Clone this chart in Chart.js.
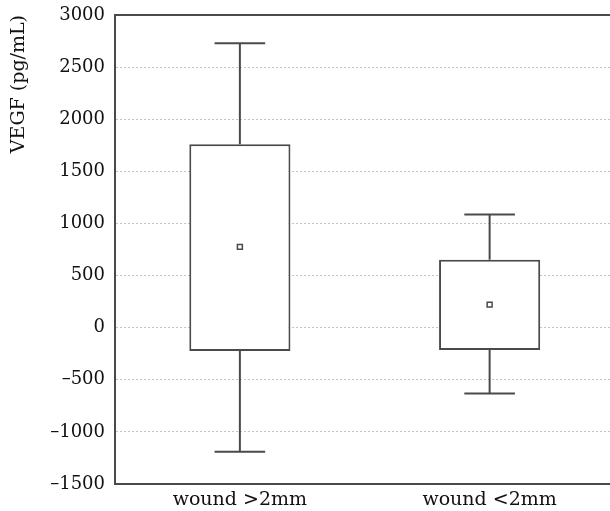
<!DOCTYPE html>
<html>
<head>
<meta charset="utf-8">
<script src="https://cdn.jsdelivr.net/npm/chart.js@4.4.1/dist/chart.umd.min.js"></script>
<style>
  html, body { margin: 0; padding: 0; background: #fff; overflow: hidden; }
  #wrap { width: 620px; height: 511px; }
</style>
</head>
<body>
<div id="wrap"><canvas id="grafico"></canvas></div>
<script>
// ===== datos =====
const categorias = ['wound >2mm', 'wound <2mm'];
const cuartilInf = [-225, -215];     // borde inferior de la caja
const cuartilSup = [1760, 652];      // borde superior de la caja
const bigoteInf  = [-1190, -632];
const bigoteSup  = [2728, 1085];
const medias     = [775, 221];

const yMin = -1500, yMax = 3000, yPaso = 500;
const tituloY = 'VEGF (pg/mL)';

const COLOR_LINEA = '#4a4a4a';
const COLOR_TEXTO = '#111111';
const FUENTE = 'DejaVu Serif';

// ===== bigotes y marco superior =====
const bigotes = {
  id: 'bigotes',
  afterDatasetsDraw(chart) {
    const { ctx, scales: { y }, chartArea } = chart;
    const meta = chart.getDatasetMeta(0);
    ctx.save();
    ctx.strokeStyle = COLOR_LINEA;
    ctx.lineWidth = 2;
    meta.data.forEach((bar, i) => {
      const cx = bar.x;
      const medio = bar.width / 4;
      const yAlto = y.getPixelForValue(bigoteSup[i]);
      const yBajo = y.getPixelForValue(bigoteInf[i]);
      const yQ3 = y.getPixelForValue(cuartilSup[i]);
      const yQ1 = y.getPixelForValue(cuartilInf[i]);
      ctx.beginPath();
      ctx.moveTo(cx, yQ3); ctx.lineTo(cx, yAlto);
      ctx.moveTo(cx - medio, yAlto); ctx.lineTo(cx + medio, yAlto);
      ctx.moveTo(cx, yQ1); ctx.lineTo(cx, yBajo);
      ctx.moveTo(cx - medio, yBajo); ctx.lineTo(cx + medio, yBajo);
      ctx.stroke();
    });
    // línea superior del marco
    ctx.beginPath();
    ctx.moveTo(chartArea.left, chartArea.top);
    ctx.lineTo(chartArea.right, chartArea.top);
    ctx.stroke();
    ctx.restore();
  }
};

const ctx = document.getElementById('grafico').getContext('2d');
const grafico = new Chart(ctx, {
  type: 'bar',
  data: {
    labels: categorias,
    datasets: [{
      label: 'caja',
      data: categorias.map((_, i) => [cuartilInf[i], cuartilSup[i]]),
      backgroundColor: '#ffffff',
      borderColor: COLOR_LINEA,
      borderWidth: 2,
      borderSkipped: false,
      categoryPercentage: 1,
      barPercentage: 0.405,
      order: 2
    }, {
      type: 'line',
      label: 'media',
      data: medias,
      showLine: false,
      pointStyle: 'rect',
      pointRadius: 3.5,
      pointBorderWidth: 1.5,
      pointBackgroundColor: '#ffffff',
      pointBorderColor: COLOR_LINEA,
      order: 1
    }]
  },
  options: {
    responsive: true,
    maintainAspectRatio: false,
    animation: false,
    layout: { padding: { left: 0, right: 1, top: 15, bottom: 0 } },
    plugins: {
      legend: { display: false },
      tooltip: { enabled: false }
    },
    scales: {
      x: {
        grid: { display: false, drawTicks: false },
        border: { color: COLOR_LINEA, width: 2 },
        ticks: { color: COLOR_TEXTO, font: { family: FUENTE, size: 19 }, padding: 5 },
        afterFit(scale) { scale.height = 27; scale.paddingLeft = 0; scale.paddingRight = 0; }
      },
      y: {
        min: yMin,
        max: yMax,
        grid: { color: '#c4c4c4', lineWidth: 1, drawTicks: false },
        border: { color: COLOR_LINEA, width: 2, dash: [2, 2] },
        ticks: {
          stepSize: yPaso,
          color: COLOR_TEXTO,
          font: { family: FUENTE, size: 18 },
          padding: 10,
          callback: v => v < 0 ? '\u2013' + Math.abs(v) : String(v)
        },
        title: {
          display: true,
          text: tituloY,
          align: 'end',
          color: COLOR_TEXTO,
          font: { family: FUENTE, size: 19 },
          padding: { top: 8, bottom: 0 }
        },
        afterFit(scale) { scale.width = 115; scale.paddingTop = 0; scale.paddingBottom = 0; }
      }
    }
  },
  plugins: [bigotes]
});
</script>
</body>
</html>
